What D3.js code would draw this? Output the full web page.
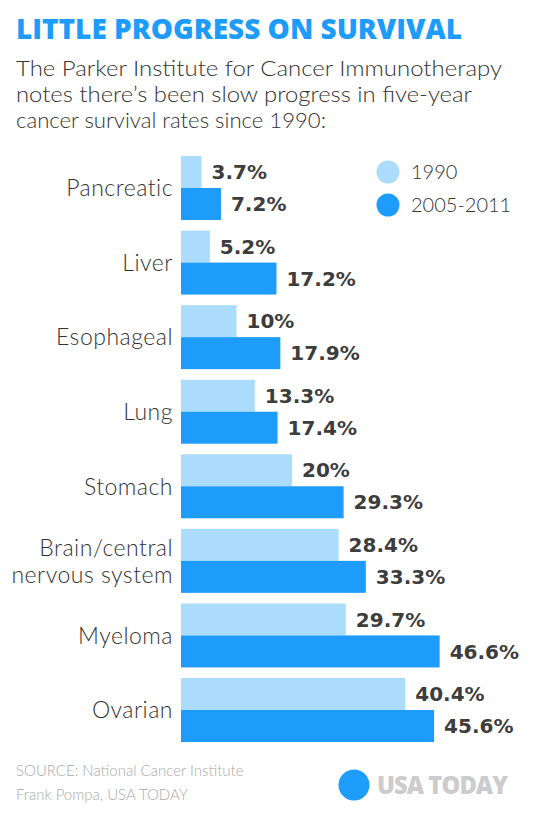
<!DOCTYPE html>
<html>
<head>
<meta charset="utf-8">
<script src="https://cdn.jsdelivr.net/npm/d3@7"></script>
<style>
  body { margin: 0; background: #fff; }
  svg { display: block; }
</style>
</head>
<body>
<div id="chart"></div>
<script>
// five-year survival rates
var categories = ["Pancreatic", "Liver", "Esophageal", "Lung", "Stomach",
  "Brain/central\nnervous system", "Myeloma", "Ovarian"];
var rates1990 = [3.7, 5.2, 10, 13.3, 20, 28.4, 29.7, 40.4];
var rates2005 = [7.2, 17.2, 17.9, 17.4, 29.3, 33.3, 46.6, 45.6];
var seriesNames = ["1990", "2005-2011"];
var valueLabels1990 = ["3.7%", "5.2%", "10%", "13.3%", "20%", "28.4%", "29.7%", "40.4%"];
var valueLabels2005 = ["7.2%", "17.2%", "17.9%", "17.4%", "29.3%", "33.3%", "46.6%", "45.6%"];

var width = 540, height = 820;
var light = "#acdcfb", dark = "#1e9cfc";
var thin = "Lato, 'Open Sans', sans-serif";

var svg = d3.select("#chart").append("svg")
  .attr("width", width)
  .attr("height", height);

// title + intro
svg.append("text")
  .attr("x", 16).attr("y", 39)
  .attr("textLength", 446).attr("lengthAdjust", "spacingAndGlyphs")
  .style("font-family", "'Open Sans', sans-serif")
  .style("font-weight", 800)
  .style("font-size", "29px")
  .style("fill", dark)
  .text("LITTLE PROGRESS ON SURVIVAL");

var intro = ["The Parker Institute for Cancer Immunotherapy",
  "notes there\u2019s been slow progress in five-year",
  "cancer survival rates since 1990:"];
var introWidths = [486, 456, 310];
svg.selectAll(".intro").data(intro).enter().append("text")
  .attr("class", "intro")
  .attr("x", 16)
  .attr("y", function(d, i){ return 76 + i * 26; })
  .attr("textLength", function(d, i){ return introWidths[i]; })
  .attr("lengthAdjust", "spacingAndGlyphs")
  .style("font-family", thin)
  .style("font-weight", 300)
  .style("font-size", "22px")
  .style("fill", "#333")
  .text(function(d){ return d; });

// scales
var x = d3.scaleLinear().domain([0, 50]).range([181, 181 + 50 * 5.55]);
var y = d3.scaleBand().domain(categories).range([156, 742]).paddingInner(0.142);
var sub = d3.scaleBand().domain(seriesNames).range([0, y.bandwidth()]);

var groups = svg.selectAll(".group").data(categories).enter().append("g")
  .attr("class", "group")
  .attr("transform", function(d){ return "translate(0," + y(d) + ")"; });

// category labels (right aligned, split on \n)
groups.each(function(d){
  var lines = d.split("\n");
  var g = d3.select(this);
  var mid = y.bandwidth() / 2;
  lines.forEach(function(line, j){
    g.append("text")
      .attr("x", 173)
      .attr("y", mid + (j - (lines.length - 1) / 2) * 27)
      .attr("dy", "0.36em")
      .attr("text-anchor", "end")
      .style("font-family", thin)
      .style("font-weight", 300)
      .style("font-size", "23px")
      .style("letter-spacing", "0.5px")
      .style("fill", "#333")
      .text(line);
  });
});

var seriesData = [
  { name: seriesNames[0], values: rates1990, labels: valueLabels1990, color: light },
  { name: seriesNames[1], values: rates2005, labels: valueLabels2005, color: dark }
];

seriesData.forEach(function(s){
  groups.append("rect")
    .attr("x", x(0))
    .attr("y", sub(s.name))
    .attr("width", function(d, i){ return x(s.values[i]) - x(0); })
    .attr("height", sub.bandwidth())
    .attr("fill", s.color);

  groups.append("text")
    .attr("x", function(d, i){ return x(s.values[i]) + 10; })
    .attr("y", sub(s.name) + sub.bandwidth() / 2)
    .attr("dy", "0.36em")
    .style("font-family", "'DejaVu Sans', sans-serif")
    .style("font-weight", 700)
    .style("font-size", "20px")
    .style("fill", "#3d3d3d")
    .text(function(d, i){ return s.labels[i]; });
});

// legend
var legend = svg.selectAll(".legend").data(seriesData).enter().append("g")
  .attr("class", "legend")
  .attr("transform", function(d, i){ return "translate(388," + (172 + i * 33) + ")"; });
legend.append("circle").attr("r", 11.5).attr("fill", function(d){ return d.color; });
legend.append("text")
  .attr("x", 23).attr("dy", "0.36em")
  .style("font-family", thin)
  .style("font-weight", 300)
  .style("font-size", "20px")
  .style("fill", "#333")
  .text(function(d){ return d.name; });

// footer
var foot = ["SOURCE: National Cancer Institute", "Frank Pompa, USA TODAY"];
svg.selectAll(".foot").data(foot).enter().append("text")
  .attr("class", "foot")
  .attr("x", 16)
  .attr("y", function(d, i){ return 776 + i * 24; })
  .style("font-family", thin)
  .style("font-weight", 300)
  .style("font-size", "15px")
  .style("fill", "#aaa")
  .text(function(d){ return d; });

svg.append("circle").attr("cx", 354).attr("cy", 785).attr("r", 15.5).attr("fill", dark);
svg.append("text")
  .attr("x", 377).attr("y", 794)
  .attr("textLength", 130).attr("lengthAdjust", "spacingAndGlyphs")
  .style("font-family", "'Open Sans', sans-serif")
  .style("font-weight", 800)
  .style("font-size", "25px")
  .style("letter-spacing", "-1px")
  .style("fill", "#cccccc")
  .text("USA TODAY");
</script>
</body>
</html>
